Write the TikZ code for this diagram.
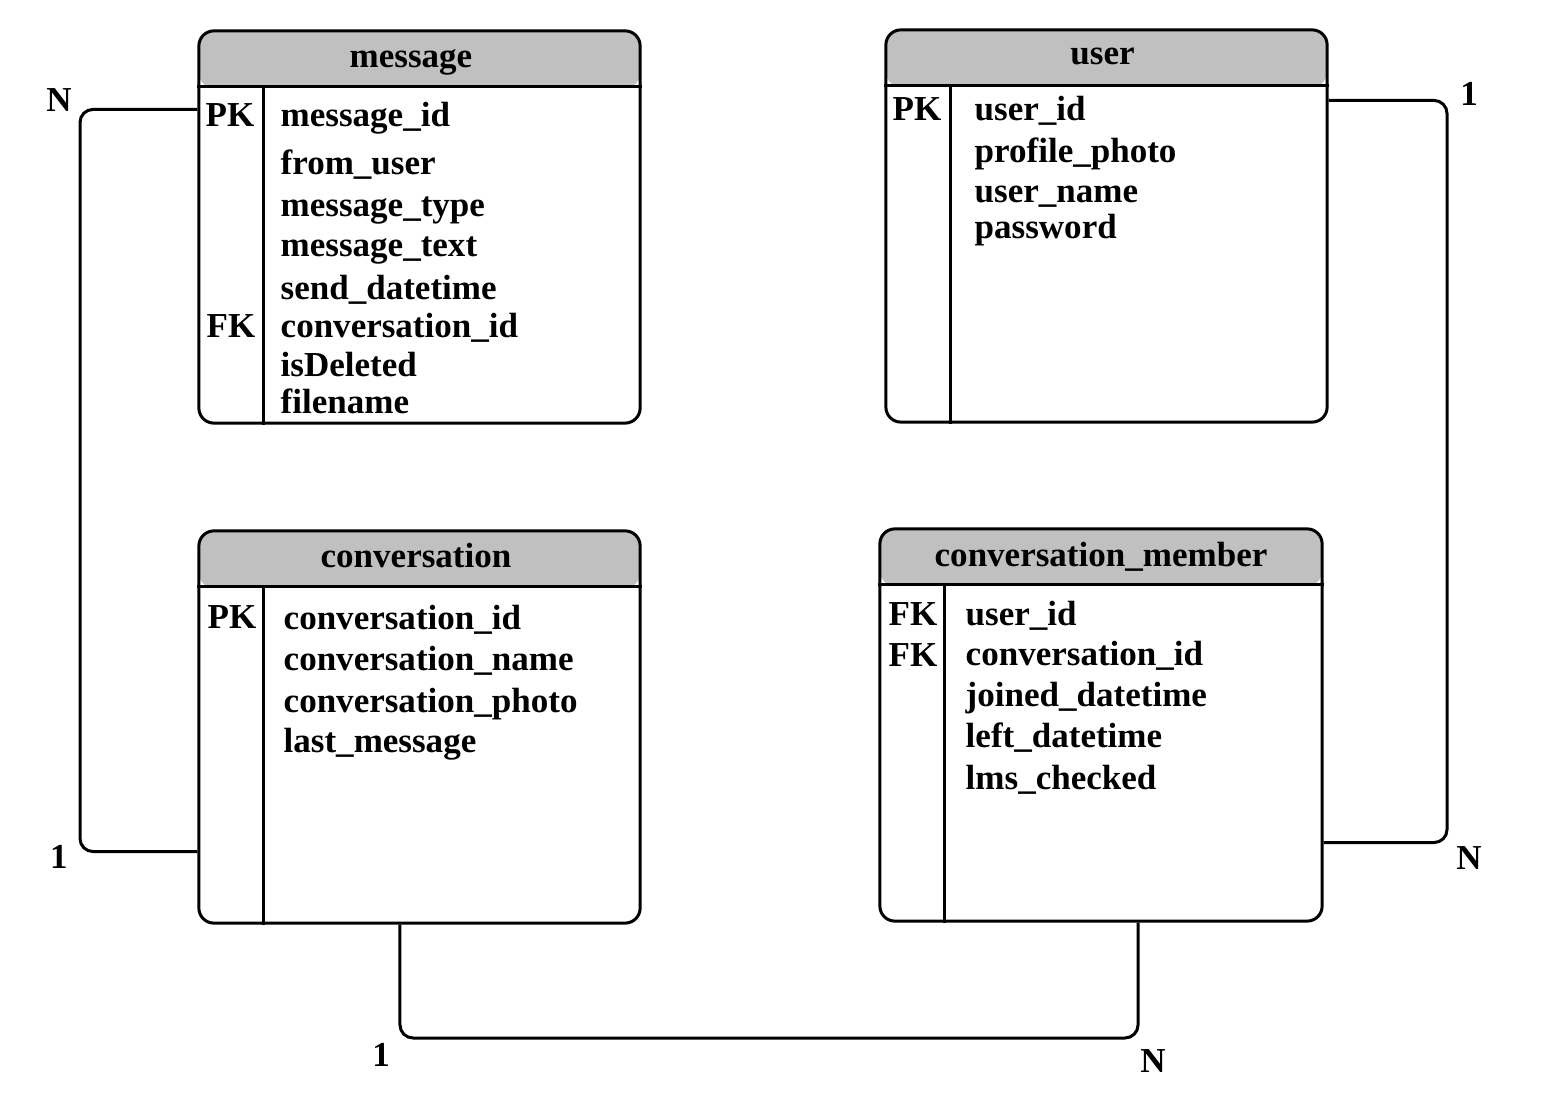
\documentclass[tikz,border=0pt]{standalone}
\usepackage{fontspec}
\setmainfont{Liberation Serif}
\usepackage{tikz}
\definecolor{headgray}{RGB}{192,192,192}
\tikzstyle{tabbox} = [rectangle, rounded corners=0.15cm, draw=black, line width=0.03cm, minimum width=4.41cm, minimum height=3.92cm, inner sep=0pt, path picture={\fill[headgray] (path picture bounding box.north west) rectangle ([yshift=-0.57cm]path picture bounding box.north east);}]
\tikzstyle{tabtitle} = [anchor=base, inner sep=0pt]
\tikzstyle{colname} = [anchor=base west, inner sep=0pt]
\tikzstyle{keyname} = [anchor=base, inner sep=0pt]
\tikzstyle{sepline} = [line width=0.03cm]
\tikzstyle{relline} = [line width=0.03cm, rounded corners=0.13cm]
\tikzstyle{cardlabel} = [inner sep=0pt]

\begin{document}
\begin{tikzpicture}[x=0.01cm, y=-0.01cm, every node/.style={font=\fontsize{9.96pt}{12pt}\selectfont\bfseries}]
		\useasboundingbox (0,0) rectangle (1546,1104);

		\node (Message) [tabbox] at (419.5,227) {};
		\node (User) [tabbox] at (1106.5,226) {};
		\node (Conversation) [tabbox] at (419.5,727) {};
		\node (ConvMember) [tabbox, minimum width=4.42cm] at (1101,725) {};

		\foreach \t in {Message,User,Conversation,ConvMember} {
			\draw [sepline] ([yshift=-0.57cm]\t.north west) -- ([yshift=-0.57cm]\t.north east);
			\draw [sepline] ([xshift=0.66cm,yshift=-0.57cm]\t.north west) -- ([xshift=0.66cm]\t.south west);
		}

		\node (MessageTitle) [tabtitle] at ([xshift=-0.085cm,yshift=-0.38cm]Message.north) {message};
		\node (UserTitle) [tabtitle] at ([xshift=-0.04cm,yshift=-0.36cm]User.north) {user};
		\node (ConversationTitle) [tabtitle] at ([xshift=-0.035cm,yshift=-0.38cm]Conversation.north) {conversation};
		\node (ConvMemberTitle) [tabtitle] at ([yshift=-0.39cm]ConvMember.north) {conversation\_member};

		\node (MessagePK) [keyname] at (230,127) {PK};
		\node (MessageFK) [keyname] at (231,338) {FK};
		\node (UserPK) [keyname] at (917,121) {PK};
		\node (ConversationPK) [keyname] at (232,629) {PK};
		\node (ConvMemberFK1) [keyname] at (913,626) {FK};
		\node (ConvMemberFK2) [keyname] at (913,667) {FK};

		\foreach \y/\t [count=\i] in {127/message\_id, 175/from\_user, 217/message\_type, 257/message\_text, 300/send\_datetime, 338/conversation\_id, 377/isDeleted, 414/filename}
			\node (Message\i) [colname] at (280,\y) {\t};
		\foreach \y/\t [count=\i] in {121/user\_id, 163/profile\_photo, 203/user\_name, 239/password}
			\node (User\i) [colname] at (974,\y) {\t};
		\foreach \y/\t [count=\i] in {630/conversation\_id, 671/conversation\_name, 712/conversation\_photo, 753/last\_message}
			\node (Conversation\i) [colname] at (283,\y) {\t};
		\foreach \y/\t [count=\i] in {626/user\_id, 666/conversation\_id, 706/joined\_datetime, 748/left\_datetime, 789/lms\_checked}
			\node (ConvMember\i) [colname] at (965,\y) {\t};

		\draw [relline] ([yshift=-0.80cm]Message.north west) -| (80,480) |- ([yshift=0.73cm]Conversation.south west);
		\draw [relline] ([yshift=-0.72cm]User.north east) -| (1447,480) |- ([yshift=0.80cm]ConvMember.south east);
		\draw [relline] ([xshift=-0.195cm]Conversation.south) |- (770,1038) -| ([xshift=0.37cm]ConvMember.south);

		\node (MsgCard) [cardlabel] at (59,100) {N};
		\node (ConvCardA) [cardlabel] at (59,857) {1};
		\node (UserCard) [cardlabel] at (1469,94) {1};
		\node (MemberCardA) [cardlabel] at (1469,858) {N};
		\node (ConvCardB) [cardlabel] at (381,1055) {1};
		\node (MemberCardB) [cardlabel] at (1153,1061) {N};
	\end{tikzpicture}
\end{document}
